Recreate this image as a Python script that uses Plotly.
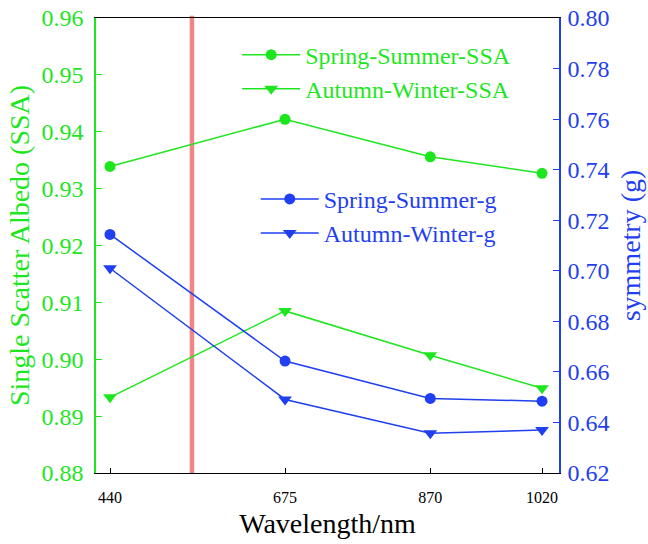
import plotly.graph_objects as go

wavelengths = [440, 675, 870, 1020]
ssa_spring_summer = [0.9339, 0.9422, 0.9356, 0.9327]
ssa_autumn_winter = [0.8933, 0.9085, 0.9007, 0.8949]
g_spring_summer = [0.7144, 0.6643, 0.6495, 0.6484]
g_autumn_winter = [0.7010, 0.6491, 0.6357, 0.6370]
x_tick_labels = ["440", "675", "870", "1020"]
ssa_ticks = [0.88, 0.89, 0.90, 0.91, 0.92, 0.93, 0.94, 0.95, 0.96]
g_ticks = [0.62, 0.64, 0.66, 0.68, 0.70, 0.72, 0.74, 0.76, 0.78, 0.80]
marker_wavelength = 550

GREEN = "#1ee61e"
BLUE = "#1f3ff0"
FONT = "'Times New Roman', 'Liberation Serif', 'DejaVu Serif', 'Noto Serif', serif"

fig = go.Figure()
fig.add_trace(go.Scatter(x=wavelengths, y=ssa_spring_summer, name="Spring-Summer-SSA",
                         mode="lines+markers", line=dict(color=GREEN, width=1.5),
                         marker=dict(symbol="circle", size=11, color=GREEN), legend="legend"))
fig.add_trace(go.Scatter(x=wavelengths, y=ssa_autumn_winter, name="Autumn-Winter-SSA",
                         mode="lines+markers", line=dict(color=GREEN, width=1.5),
                         marker=dict(symbol="triangle-down", size=12, color=GREEN), legend="legend"))
fig.add_trace(go.Scatter(x=wavelengths, y=g_spring_summer, name="Spring-Summer-g", yaxis="y2",
                         mode="lines+markers", line=dict(color=BLUE, width=1.5),
                         marker=dict(symbol="circle", size=11, color=BLUE), legend="legend2"))
fig.add_trace(go.Scatter(x=wavelengths, y=g_autumn_winter, name="Autumn-Winter-g", yaxis="y2",
                         mode="lines+markers", line=dict(color=BLUE, width=1.5),
                         marker=dict(symbol="triangle-down", size=12, color=BLUE), legend="legend2"))

fig.add_shape(type="line", x0=marker_wavelength, x1=marker_wavelength, xref="x",
              y0=0, y1=1.005, yref="paper", line=dict(color="rgba(240,120,120,0.9)", width=4.5),
              layer="below")

fig.update_layout(
    width=648, height=544,
    margin=dict(l=96, r=89, t=18, b=71, autoexpand=False),
    paper_bgcolor="white", plot_bgcolor="white",
    font=dict(family=FONT, color="black"),
    showlegend=True,
    xaxis=dict(range=[421.2, 1042.8], tickvals=wavelengths, ticktext=x_tick_labels,
               ticks="inside", ticklen=5, tickcolor="black", showgrid=False, zeroline=False,
               showline=True, linecolor="black", linewidth=1.2, mirror=True, automargin=False,
               tickfont=dict(size=16, color="black", family=FONT), ticklabelstandoff=10,
               title=dict(text="Wavelength/nm", font=dict(size=28, color="black", family=FONT), standoff=8)),
    yaxis=dict(range=[0.88, 0.96], tickvals=ssa_ticks, tickformat=".2f", ticks="inside", ticklen=6,
               tickcolor=GREEN, showgrid=False, zeroline=False, showline=True, linecolor=GREEN,
               linewidth=1.5, automargin=False, tickfont=dict(size=24, color=GREEN, family=FONT),
               ticklabelstandoff=6, ticklabeloverflow="allow",
               title=dict(text="Single Scatter Albedo (SSA)", font=dict(size=28, color=GREEN, family=FONT), standoff=4)),
    yaxis2=dict(range=[0.62, 0.80], tickvals=g_ticks, tickformat=".2f", ticks="inside", ticklen=6,
                tickcolor=BLUE, showgrid=False, zeroline=False, showline=True, linecolor=BLUE,
                linewidth=1.5, overlaying="y", side="right", anchor="x", automargin=False,
                tickfont=dict(size=24, color=BLUE, family=FONT), ticklabelstandoff=2,
                ticklabeloverflow="allow",
                title=dict(text="symmetry (g)", font=dict(size=28, color=BLUE, family=FONT), standoff=12)),
    legend=dict(x=0.305, y=0.968, xanchor="left", yanchor="top", bgcolor="rgba(0,0,0,0)",
                font=dict(size=24, color=GREEN, family=FONT), itemwidth=58, tracegroupgap=0),
    legend2=dict(x=0.345, y=0.651, xanchor="left", yanchor="top", bgcolor="rgba(0,0,0,0)",
                 font=dict(size=24, color=BLUE, family=FONT), itemwidth=58, tracegroupgap=0),
)

fig.write_html("out.html", config={"displayModeBar": False},
               post_script="document.body.style.margin='0';")
